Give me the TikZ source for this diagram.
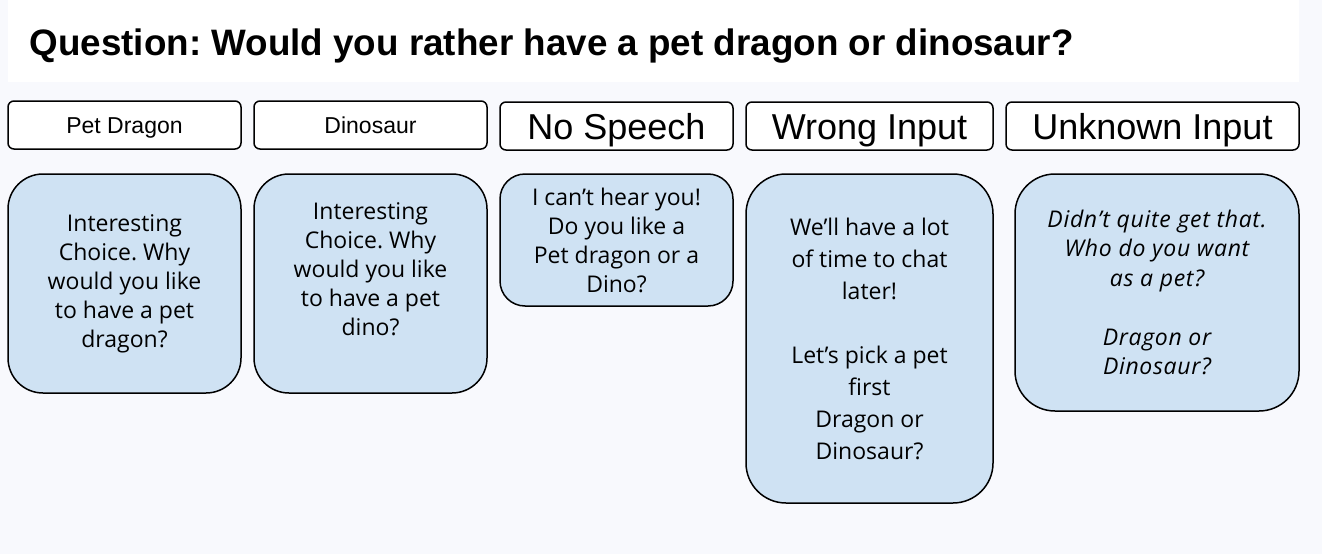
\documentclass[tikz,border=0pt]{standalone}
\usepackage{fontspec}
\setmainfont{Liberation Sans}
\newfontfamily\handfont{Open Sans}
\newfontfamily\handslant[LetterSpace=3]{Open Sans Italic}
\definecolor{pagebg}{HTML}{F8F9FD}
\definecolor{replyblue}{HTML}{CFE2F3}
\frenchspacing
\tikzset{
  tag/.style={draw=black, line width=1.5pt, rounded corners=6pt, fill=white,
    minimum height=48pt, inner sep=0pt},
  smalltag/.style={tag, text height=16.5pt, text depth=0pt, font=\fontsize{23}{26}\selectfont},
  bigtag/.style={tag, text height=26pt, text depth=0pt, font=\fontsize{36}{40}\selectfont},
  reply/.style={draw=black, line width=1.5pt, rounded corners=35pt, fill=replyblue,
    align=center, inner sep=0pt, font=\handfont\fontsize{23}{29}\selectfont},
}
\begin{document}
\begin{tikzpicture}[x=1pt,y=-1pt]
\fill[pagebg] (0,0) rectangle (1322,554);
\useasboundingbox (0,0) rectangle (1322,554);
\fill[white] (8,0) rectangle (1299,82);
\node[anchor=base west, font=\bfseries\fontsize{36.8}{40}\selectfont] (question) at (26,55) {Question: Would you rather have a pet dragon or dinosaur?};
% answer tags
\node[smalltag, minimum width=233pt] (dragontag) at (124.5,125) {Pet Dragon};
\node[smalltag, minimum width=233pt] (dinotag) at (370.5,125) {Dinosaur};
\node[bigtag, minimum width=233pt] (silenttag) at (616.5,126) {No Speech};
\node[bigtag, minimum width=247pt] (wrongtag) at (869.5,126) {Wrong Input};
\node[bigtag, minimum width=293pt] (unknowntag) at (1152.5,126) {Unknown Input};
% replies
\node[reply, minimum width=233pt, minimum height=219pt] (dragonreply) at (124.5,283.5)
  {Interesting\\ Choice. Why\\ would you like\\ to have a pet\\ dragon?};
\node[reply, minimum width=233pt, minimum height=219pt] (dinoreply) at (370.5,283.5)
  {Interesting\\ Choice. Why\\ would you like\\ to have a pet\\ dino?\\ ~};
\node[reply, rounded corners=25pt, minimum width=233pt, minimum height=132pt] (silentreply) at (616.5,240)
  {I can’t hear you!\\ Do you like a\\ Pet dragon or a\\ Dino?};
\node[reply, rounded corners=40pt, minimum width=247pt, minimum height=329pt,
  font=\handfont\fontsize{23}{32}\selectfont] (wrongreply) at (869.5,338.5)
  {We’ll have a lot\\ of time to chat\\ later!\\[32pt] Let’s pick a pet\\ first\\ Dragon or\\ Dinosaur?};
\node[reply, rounded corners=40pt, minimum width=284pt, minimum height=237pt,
  font=\handslant\fontsize{23}{29.5}\selectfont] (unknownreply) at (1157,292.5)
  {Didn’t quite get that.\\ Who do you want\\ as a pet?\\[29.5pt] Dragon or\\ Dinosaur?};
\end{tikzpicture}
\end{document}
